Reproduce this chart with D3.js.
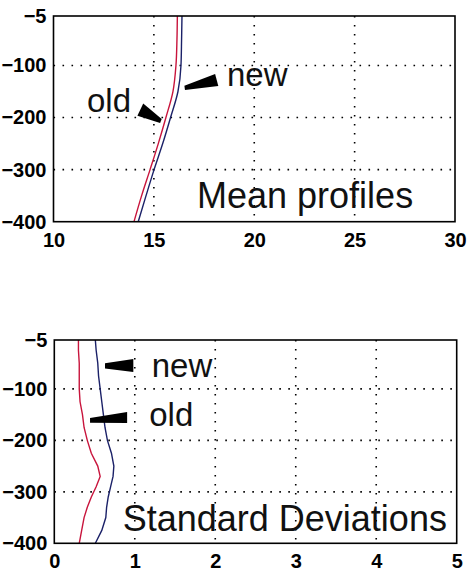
<!DOCTYPE html>
<html>
<head>
<meta charset="utf-8">
<script src="https://cdn.jsdelivr.net/npm/d3@7"></script>
<style>
  body { margin: 0; background: #fff; }
  svg { display: block; }
</style>
</head>
<body>
<script>
// depth levels (m) and profiles
var meanDepth = [-5, -50, -100, -150, -200, -250, -300, -350, -400];
var meanOld   = [16.17, 16.15, 16.10, 15.95, 15.60, 15.22, 14.81, 14.39, 14.01];
var meanNew   = [16.40, 16.38, 16.35, 16.20, 15.83, 15.44, 15.01, 14.61, 14.22];

var sdDepth = [-5, -25, -50, -75, -100, -125, -150, -175, -200, -225, -250, -270, -290, -310, -330, -350, -375, -400];
var sdOld   = [0.30, 0.30, 0.31, 0.31, 0.31, 0.32, 0.35, 0.37, 0.41, 0.46, 0.54, 0.57, 0.52, 0.46, 0.41, 0.37, 0.34, 0.31];
var sdNew   = [0.51, 0.52, 0.54, 0.55, 0.57, 0.59, 0.61, 0.63, 0.66, 0.71, 0.74, 0.73, 0.70, 0.67, 0.65, 0.64, 0.59, 0.51];

var yTicks = [-5, -100, -200, -300, -400];
var meanXTicks = [10, 15, 20, 25, 30];
var sdXTicks = [0, 1, 2, 3, 4, 5];

// annotations in data units: [x, depth]
var meanLabels = [
  {text: "new", at: [18.64, -139]},
  {text: "old", at: [11.67, -189]},
  {text: "Mean profiles", at: [17.15, -373], big: true}
];
var meanArrows = [
  [[16.52, -138.8], [18.05, -116.5], [18.21, -139.5], [16.55, -147.1]],
  [[14.47, -173.0], [15.39, -202.8], [15.31, -210.5], [14.18, -196.5]]
];
var sdLabels = [
  {text: "new", at: [1.21, -76]},
  {text: "old", at: [1.18, -173]},
  {text: "Standard Deviations", at: [0.85, -377], big: true}
];
var sdArrows = [
  [[0.630, -50.0], [0.982, -42.0], [0.982, -67.0], [0.630, -60.5]],
  [[0.444, -156.5], [0.905, -145.0], [0.905, -166.5], [0.444, -166.0]]
];

var svg = d3.select("body").append("svg")
    .attr("width", 471)
    .attr("height", 577);

function fmt(d) { return d < 0 ? "\u2212" + Math.abs(d) : String(d); }

function drawPanel(p) {
  var x = d3.scaleLinear().domain(p.xDomain).range([p.left, p.right]);
  var y = d3.scaleLinear().domain([-400, -5]).range([p.bottom, p.top]);
  var g = svg.append("g");

  // dotted grid
  g.selectAll(".gx").data(p.xTicks.slice(1, -1)).enter().append("line")
      .attr("x1", function(d) { return x(d); })
      .attr("x2", function(d) { return x(d); })
      .attr("y1", p.top).attr("y2", p.bottom)
      .attr("stroke", "#000").attr("stroke-width", 1.6)
      .attr("stroke-dasharray", "1.6,7.4");
  g.selectAll(".gy").data(yTicks.slice(1, -1)).enter().append("line")
      .attr("y1", function(d) { return y(d); })
      .attr("y2", function(d) { return y(d); })
      .attr("x1", p.left).attr("x2", p.right)
      .attr("stroke", "#000").attr("stroke-width", 1.6)
      .attr("stroke-dasharray", "1.6,7.4");

  // profiles
  var line = d3.line()
      .x(function(d) { return x(d[0]); })
      .y(function(d) { return y(d[1]); })
      .curve(p.curve);
  g.append("path")
      .datum(d3.zip(p.old, p.depth))
      .attr("d", line)
      .attr("fill", "none").attr("stroke", "#c8143c").attr("stroke-width", 1.4);
  g.append("path")
      .datum(d3.zip(p.neu, p.depth))
      .attr("d", line)
      .attr("fill", "none").attr("stroke", "#1b2168").attr("stroke-width", 1.4);

  // frame
  g.append("rect")
      .attr("x", p.left).attr("y", p.top)
      .attr("width", p.right - p.left).attr("height", p.bottom - p.top)
      .attr("fill", "none").attr("stroke", "#000").attr("stroke-width", 1.6);

  // axes
  var ax = g.append("g")
      .attr("transform", "translate(0," + p.bottom + ")")
      .call(d3.axisBottom(x).tickValues(p.xTicks).tickSize(0).tickPadding(10).tickFormat(fmt));
  var ay = g.append("g")
      .attr("transform", "translate(" + p.left + ",0)")
      .call(d3.axisLeft(y).tickValues(yTicks).tickSize(0).tickPadding(7).tickFormat(fmt));
  [ax, ay].forEach(function(a) {
    a.select(".domain").remove();
    a.selectAll("text")
        .attr("fill", "#000")
        .style("font-family", "'Liberation Sans', Arial, sans-serif")
        .style("font-size", "20px")
        .style("font-weight", "bold");
  });
  ax.selectAll("text").attr("dy", "0.75em");

  // arrows and labels
  g.selectAll(".arrow").data(p.arrows).enter().append("path")
      .attr("d", function(shape) {
        return "M" + shape.map(function(pt) { return x(pt[0]) + "," + y(pt[1]); }).join("L") + "Z";
      })
      .attr("fill", "#000");
  g.selectAll(".lab").data(p.labels).enter().append("text")
      .attr("x", function(d) { return x(d.at[0]); })
      .attr("y", function(d) { return y(d.at[1]); })
      .attr("fill", "#111")
      .style("font-family", "'Liberation Sans', Arial, sans-serif")
      .style("font-size", function(d) { return d.big ? "36px" : "33px"; })
      .text(function(d) { return d.text; });
}

drawPanel({
  xDomain: [10, 30], xTicks: meanXTicks,
  left: 53.5, right: 455, top: 16, bottom: 221.7,
  depth: meanDepth, old: meanOld, neu: meanNew,
  curve: d3.curveMonotoneY,
  labels: meanLabels, arrows: meanArrows
});

drawPanel({
  xDomain: [0, 5], xTicks: sdXTicks,
  left: 54.3, right: 456.7, top: 340, bottom: 543.3,
  depth: sdDepth, old: sdOld, neu: sdNew,
  curve: d3.curveLinear,
  labels: sdLabels, arrows: sdArrows
});
</script>
</body>
</html>
